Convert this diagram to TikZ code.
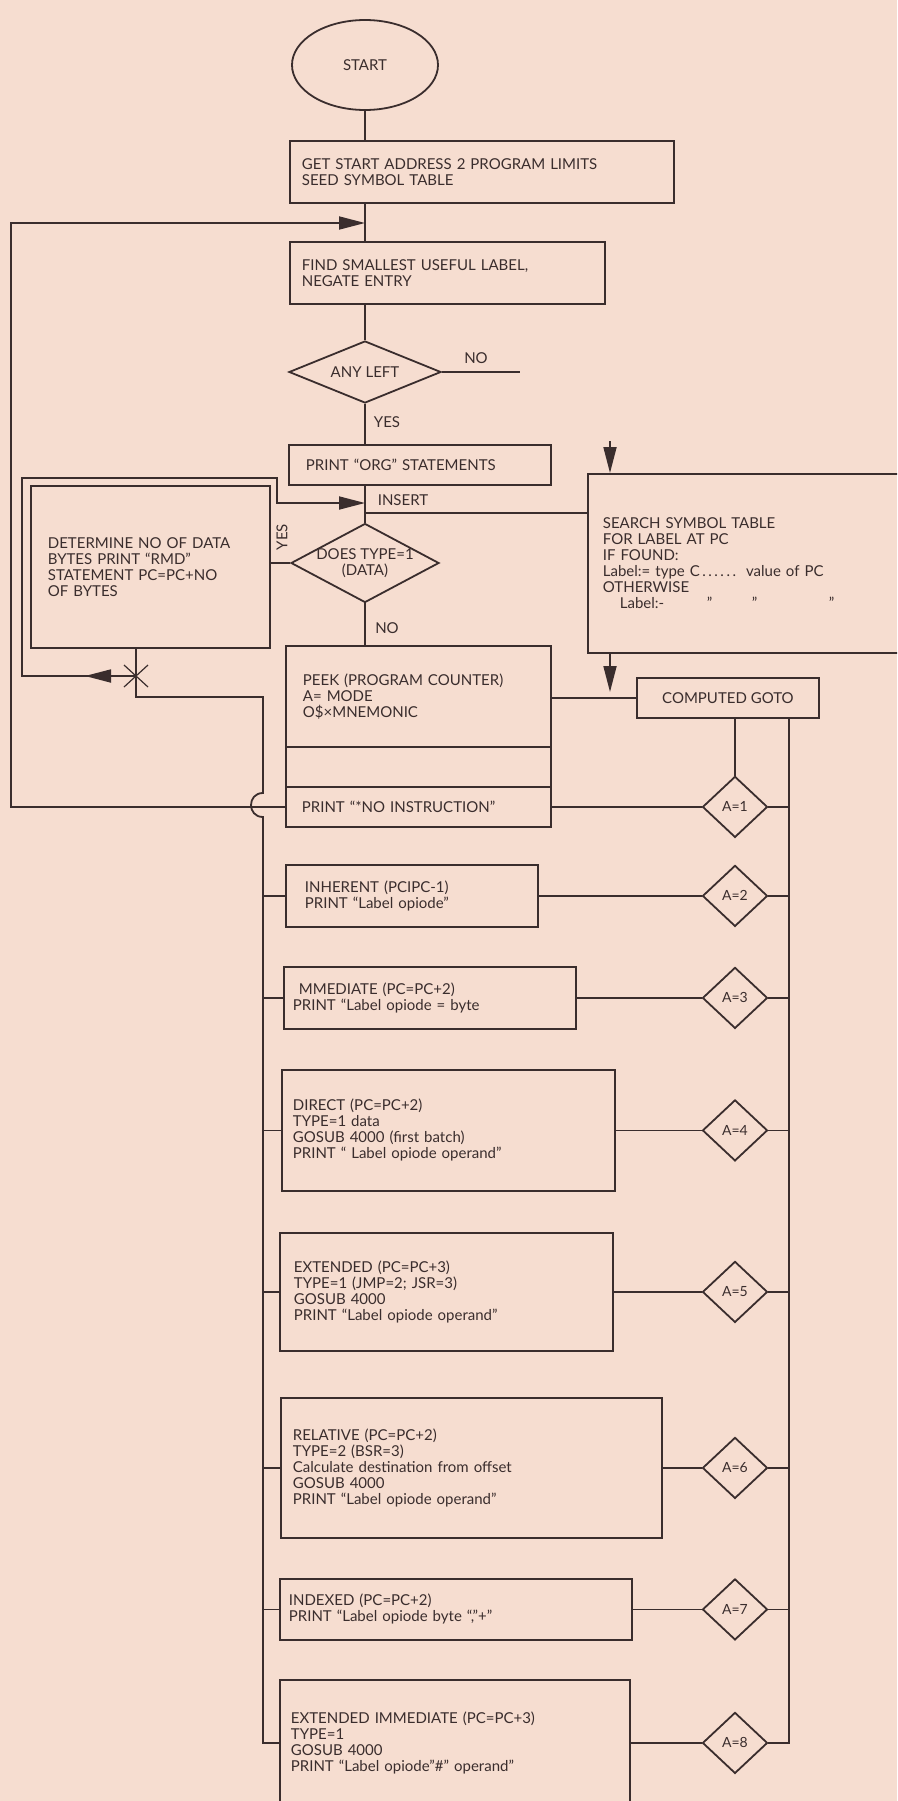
\documentclass[tikz,border=0pt]{standalone}
\usepackage{fontspec}
\setmainfont{Lato}
\usetikzlibrary{shapes.geometric,arrows.meta,calc}
\definecolor{bgc}{HTML}{F6DDD0}
\definecolor{ink}{HTML}{3A2D2D}
\begin{document}
\begin{tikzpicture}[x=1pt,y=-1pt,
  conn/.style={draw=ink, line width=1.8pt},
  arr/.style={conn, -{Triangle[length=26pt,width=13pt]}},
  pbox/.style={draw=ink, line width=1.8pt, rectangle, anchor=north west, align=left, inner ysep=0pt, text=ink, font=\fontsize{15}{16}\selectfont},
  dia/.style={draw=ink, line width=1.8pt, diamond, inner sep=0pt},
  adia/.style={dia, minimum width=65pt, minimum height=61pt},
  lbl/.style={text=ink, font=\fontsize{15}{16}\selectfont, inner sep=0pt},
  albl/.style={text=ink, font=\fontsize{14}{14}\selectfont, inner sep=0pt},
]
\useasboundingbox (0,0) rectangle (897,1801);
\fill[bgc] (0,0) rectangle (897,1801);
\clip (0,0) rectangle (897,1801);

% ---------- nodes ----------
\node[draw=ink, line width=1.8pt, ellipse, minimum width=146pt, minimum height=90pt, inner sep=0pt, text=ink, font=\fontsize{15}{16}\selectfont] (start) at (365,65) {START};

\node[pbox, minimum width=384pt, minimum height=62pt, text width=360pt, inner xsep=12pt] (get) at (289,140)
  {GET START ADDRESS 2 PROGRAM LIMITS\\SEED SYMBOL TABLE};

\node[pbox, minimum width=315pt, minimum height=62pt, text width=291pt, inner xsep=12pt] (find) at (289,241)
  {FIND SMALLEST USEFUL LABEL,\\NEGATE ENTRY};

\node[dia, minimum width=152pt, minimum height=62pt, label={[lbl]center:ANY LEFT}] (any) at (365,372) {};

\node[pbox, minimum width=262pt, minimum height=40pt, text width=228pt, inner xsep=17pt] (org) at (288,444)
  {PRINT “ORG” STATEMENTS};

\node[pbox, minimum width=239pt, minimum height=162pt, text width=205pt, inner xsep=17pt] (det) at (30,485)
  {DETERMINE NO OF DATA\\BYTES PRINT “RMD”\\STATEMENT PC=PC+NO\\OF BYTES};

\node[dia, minimum width=148pt, minimum height=79pt, label={[lbl,align=center]center:{DOES TYPE=1\\(DATA)}}] (dt) at (365,563) {};

\node[pbox, minimum width=330pt, minimum height=179pt, text width=300pt, inner xsep=15pt] (search) at (587,473)
  {SEARCH SYMBOL TABLE\\FOR LABEL AT PC\\IF FOUND:\\Label:= type C\,.\,.\,.\,.\,.\,.\, value of PC\\OTHERWISE\\
   \makebox[0pt][l]{\hspace*{17pt}Label:-}\makebox[0pt][l]{\hspace*{104pt}”}\makebox[0pt][l]{\hspace*{149pt}”}\hspace*{226pt}”};

\node[pbox, minimum width=265pt, minimum height=101pt, text width=231pt, inner xsep=17pt] (peek) at (285,645)
  {PEEK (PROGRAM COUNTER)\\A= MODE\\O\$×MNEMONIC};
\node[pbox, minimum width=265pt, minimum height=40pt, inner xsep=0pt] (blank) at (285,746) {};
\node[pbox, minimum width=265pt, minimum height=40pt, text width=233pt, inner xsep=16pt] (noinst) at (285,786)
  {PRINT “*NO INSTRUCTION”};

\node[pbox, minimum width=182pt, minimum height=40pt, align=center] (goto) at (636,677) {COMPUTED GOTO};

\node[pbox, minimum width=252pt, minimum height=62pt, text width=214pt, inner xsep=19pt] (inh) at (285,864)
  {INHERENT (PCIPC-1)\\PRINT “Label opiode”};
\node[pbox, minimum width=292pt, minimum height=62pt, text width=274pt, inner xsep=9pt] (imm) at (283,966)
  {\hspace*{6pt}MMEDIATE (PC=PC+2)\\PRINT “Label opiode = byte};
\node[pbox, minimum width=333pt, minimum height=121pt, text width=311pt, inner xsep=11pt] (dir) at (281,1069)
  {DIRECT (PC=PC+2)\\TYPE=1 data\\GOSUB 4000 (first batch)\\PRINT “ Label opiode operand”};
\node[pbox, minimum width=333pt, minimum height=118pt, text width=305pt, inner xsep=14pt] (ext) at (279,1232)
  {EXTENDED (PC=PC+3)\\TYPE=1 (JMP=2; JSR=3)\\GOSUB 4000\\PRINT “Label opiode operand”};
\node[pbox, minimum width=381pt, minimum height=140pt, text width=357pt, inner xsep=12pt] (rel) at (280,1397)
  {RELATIVE (PC=PC+2)\\TYPE=2 (BSR=3)\\Calculate destination from offset\\GOSUB 4000\\PRINT “Label opiode operand”};
\node[pbox, minimum width=352pt, minimum height=61pt, text width=334pt, inner xsep=9pt] (idx) at (279,1578)
  {INDEXED (PC=PC+2)\\PRINT “Label opiode byte “,”+”};
\node[pbox, minimum width=350pt, minimum height=126pt, text width=328pt, inner xsep=11pt] (exi) at (279,1679)
  {EXTENDED IMMEDIATE (PC=PC+3)\\TYPE=1\\GOSUB 4000\\PRINT “Label opiode”\#” operand”};

\coordinate (ax) at (735,0);
\node[adia, label={[albl]center:A=1}] (a1) at (noinst.center -| ax) {};
\node[adia, label={[albl]center:A=2}] (a2) at (inh.center -| ax) {};
\node[adia, label={[albl]center:A=3}] (a3) at (imm.center -| ax) {};
\node[adia, label={[albl]center:A=4}] (a4) at (dir.center -| ax) {};
\node[adia, label={[albl]center:A=5}] (a5) at (ext.center -| ax) {};
\node[adia, label={[albl]center:A=6}] (a6) at (rel.center -| ax) {};
\node[adia, label={[albl]center:A=7}] (a7) at (idx.center -| ax) {};
\node[adia, label={[albl]center:A=8}] (a8) at (exi.center -| ax) {};

% ---------- labels ----------
\node[lbl] (no1) at (476,358) {NO};
\node[lbl] (yes1) at (387,422) {YES};
\node[lbl] (insl) at (403,500) {INSERT};
\node[lbl, rotate=90] (yes2) at (282,537) {YES};
\node[lbl] (no2) at (387,628) {NO};

% ---------- connectors ----------
\draw[conn] (start.south) -- (start.south |- get.north);
\draw[conn] (start.south |- get.south) -- (start.south |- find.north);
\coordinate (j1) at (365,223);
\draw[conn] (find.south -| any.north) -- (any.north);
\draw[conn] (any.south) -- (any.south |- org.north);
\coordinate (noend) at (520,372);
\draw[conn] (any.east) -- (noend);
\draw[conn] (org.south -| dt.north) -- (dt.north);
\coordinate (ins) at (365,513);
\draw[conn] (ins) -- (ins -| search.west);
\draw[conn] (dt.south) -- (dt.south |- peek.north);
\draw[conn] (dt.west) -- (dt.west -| det.east);

% data loop
\coordinate (X) at (136,676);
\coordinate (j2) at (365,503);
\draw[arr] (X) -- (22,676) -- (22,478) -- (277,478) -- (277,503) -- (j2);
\coordinate (xa) at (85,676);
\draw[arr] (X) -- (xa);
\draw[conn] (X |- det.south) -- (X);
\draw[ink, line width=1.2pt] ($(X)+(-12,-11)$) -- ($(X)+(12,11)$);
\draw[ink, line width=1.2pt] ($(X)+(-12,11)$) -- ($(X)+(12,-11)$);

% left bus
\coordinate (lb) at (263,697);
\draw[conn] (X) |- (lb) -- (263,793) .. controls (247,793) and (247,817) .. (263,817) -- (exi.west -| lb) -- (exi.west);
\foreach \b in {inh,imm,dir,ext,rel,idx} \draw[conn] (\b.west) -- (\b.west -| lb);

% main loop back
\coordinate (lc) at (11,0);
\draw[arr] (noinst.west) -- (noinst.west -| lc) |- (j1);

% right side
\draw[conn] (goto.west -| peek.east) -- (goto.west);
\coordinate (s0) at (610,441);
\draw[arr] (s0) -- (s0 |- search.north);
\coordinate (s1) at (610,692);
\draw[arr] (s0 |- search.south) -- (s1);
\draw[conn] (a1.north) -- (a1.north |- goto.south);
\coordinate (rb) at (789,717);
\draw[conn] (rb) -- (rb |- a8.east) -- (a8.east);
\foreach \a in {a1,a2,a3,a4,a5,a6,a7} \draw[conn] (\a.east) -- (\a.east -| rb);
\draw[conn] (noinst.east) -- (a1.west);
\draw[conn] (inh.east) -- (a2.west);
\draw[conn] (imm.east) -- (a3.west);
\draw[conn] (dir.east) -- (a4.west);
\draw[conn] (ext.east) -- (a5.west);
\draw[conn] (rel.east) -- (a6.west);
\draw[conn] (idx.east) -- (a7.west);
\draw[conn] (exi.east) -- (a8.west);
\end{tikzpicture}
\end{document}
